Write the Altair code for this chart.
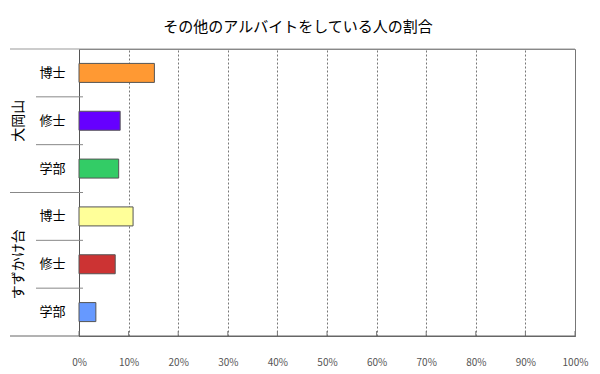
import altair as alt
import pandas as pd

campus = ["大岡山", "大岡山", "大岡山", "すずかけ台", "すずかけ台", "すずかけ台"]
degree = ["博士", "修士", "学部", "博士", "修士", "学部"]
values = [15.2, 8.3, 8.0, 10.9, 7.3, 3.4]
colors = ["#FF9933", "#6600FF", "#33CC66", "#FFFF99", "#CC3333", "#6699FF"]
ticks = [0, 10, 20, 30, 40, 50, 60, 70, 80, 90, 100]
title = "その他のアルバイトをしている人の割合"

keys = [f"{c}|{d}" for c, d in zip(campus, degree)]
df = pd.DataFrame({"key": keys, "campus": campus, "degree": degree, "value": values})

W, H = 496, 287
FONT = "Noto Sans CJK JP"

yscale = alt.Scale(domain=keys, paddingInner=0, paddingOuter=0)
xscale = alt.Scale(domain=[0, 100])

xaxis = alt.Axis(values=ticks, labelExpr="datum.value + '%'", grid=True,
                 gridDash=[2, 2], gridColor="#777777", ticks=False,
                 domain=True, domainColor="#666666", labelPadding=21,
                 labelFlush=False, labelOverlap=False,
                 labelFontSize=10, labelColor="#555555", labelFont=FONT,
                 title=None)
yaxis = alt.Axis(labelExpr="split(datum.value, '|')[1]", ticks=False,
                 domainColor="#555555", labelPadding=14, labelFontSize=13,
                 labelColor="#000000", labelFont=FONT, title=None)

bars = alt.Chart(df).mark_bar(size=19, stroke="#555555", strokeWidth=1).encode(
    x=alt.X("value:Q", scale=xscale, axis=xaxis),
    y=alt.Y("key:N", scale=yscale, axis=yaxis),
    color=alt.Color("key:N", scale=alt.Scale(domain=keys, range=colors), legend=None),
)

tick_df = pd.DataFrame({"t": ticks})
xticks = alt.Chart(tick_df).mark_rule(color="#777777").encode(
    x=alt.X("t:Q", scale=xscale, axis=xaxis),
    y=alt.value(H - 5), y2=alt.value(H),
)

sub_df = df[df["degree"] != "博士"]
sub_sep = alt.Chart(sub_df).mark_rule(color="#888888").encode(
    y=alt.Y("key:N", scale=yscale, bandPosition=0, axis=yaxis),
    x=alt.value(-43), x2=alt.value(4),
)

grp_df = df[(df["degree"] == "博士") & (df["campus"] == "すずかけ台")]
grp_sep = alt.Chart(grp_df).mark_rule(color="#888888").encode(
    y=alt.Y("key:N", scale=yscale, bandPosition=0, axis=yaxis),
    x=alt.value(-69), x2=alt.value(4),
)

top_df = df.iloc[[0]]
top_line = alt.Chart(top_df).mark_rule(color="#999999").encode(
    y=alt.Y("key:N", scale=yscale, bandPosition=0, axis=yaxis),
    x=alt.value(-69), x2=alt.value(W),
)
bot_df = df.iloc[[-1]]
bot_line = alt.Chart(bot_df).mark_rule(color="#666666").encode(
    y=alt.Y("key:N", scale=yscale, bandPosition=1, axis=yaxis),
    x=alt.value(-69), x2=alt.value(W),
)

mid_df = df[df["degree"] == "修士"]
grp_labels = alt.Chart(mid_df).mark_text(angle=270, fontSize=14, font=FONT,
                                         color="#000000", align="center",
                                         baseline="middle").encode(
    y=alt.Y("key:N", scale=yscale, axis=yaxis),
    x=alt.value(-60),
    text="campus:N",
)

chart = alt.layer(bars, xticks, sub_sep, grp_sep, top_line, bot_line, grp_labels).properties(
    width=W, height=H,
    title=alt.TitleParams(title, fontSize=15, font=FONT, fontWeight="normal",
                          color="#000000", anchor="middle", dx=-29, offset=14),
    padding={"left": 71, "top": 41, "right": 17, "bottom": 38},
    autosize="none",
).configure_view(stroke="#777777")

chart.save("out.html", embed_options={"renderer": "svg", "actions": False})
